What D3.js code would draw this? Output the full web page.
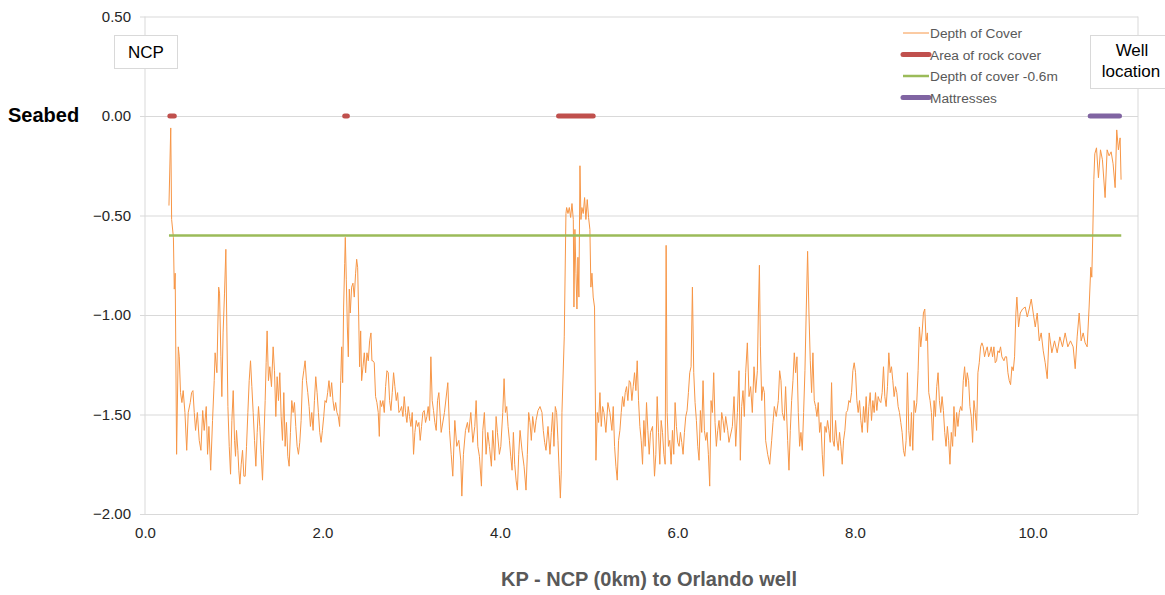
<!DOCTYPE html>
<html>
<head>
<meta charset="utf-8">
<script src="https://cdn.jsdelivr.net/npm/d3@7"></script>
<style>
  body { margin: 0; background: #fff; }
  text { font-family: "Liberation Sans", Arial, sans-serif; }
</style>
</head>
<body>
<div id="chart"></div>
<script>
// depth of cover along the route, [KP km, depth m]
var depthOfCover = [
  [0.27,-0.45],[0.29,-0.06],[0.30,-0.52],[0.32,-0.61],[0.33,-0.87],[0.34,-0.79],[0.356,-1.70],[0.375,-1.16],
  [0.40,-1.39],[0.43,-1.38],[0.47,-1.68],[0.51,-1.44],[0.54,-1.38],[0.57,-1.58],[0.59,-1.49],[0.63,-1.68],
  [0.65,-1.48],[0.69,-1.46],[0.705,-1.70],[0.72,-1.56],[0.74,-1.78],[0.78,-1.33],[0.79,-1.19],[0.81,-1.29],
  [0.83,-0.86],[0.84,-0.89],[0.855,-1.21],[0.866,-1.41],[0.88,-1.09],[0.896,-0.89],[0.911,-0.67],[0.922,-1.06],
  [0.934,-1.46],[0.964,-1.80],[0.979,-1.53],[0.994,-1.38],[1.02,-1.71],[1.031,-1.58],[1.057,-1.78],[1.069,-1.85],
  [1.099,-1.68],[1.114,-1.81],[1.144,-1.66],[1.174,-1.33],[1.189,-1.23],[1.219,-1.49],[1.249,-1.76],[1.279,-1.46],
  [1.309,-1.70],[1.324,-1.83],[1.354,-1.43],[1.376,-1.08],[1.406,-1.26],[1.444,-1.16],[1.474,-1.51],[1.489,-1.31],
  [1.519,-1.29],[1.549,-1.63],[1.564,-1.39],[1.579,-1.66],[1.609,-1.71],[1.624,-1.76],[1.654,-1.43],[1.684,-1.44],
  [1.729,-1.70],[1.759,-1.53],[1.789,-1.28],[1.819,-1.33],[1.864,-1.56],[1.894,-1.58],[1.924,-1.31],[1.969,-1.59],
  [1.999,-1.58],[2.028,-1.43],[2.073,-1.33],[2.118,-1.43],[2.163,-1.49],[2.193,-1.56],[2.205,-1.33],[2.216,-1.16],
  [2.227,-1.34],[2.238,-0.96],[2.25,-0.74],[2.257,-0.61],[2.268,-0.82],[2.291,-1.21],[2.302,-0.87],[2.328,-0.86],
  [2.358,-0.91],[2.385,-0.72],[2.407,-0.99],[2.418,-1.26],[2.441,-1.33],[2.471,-1.19],[2.501,-1.19],[2.546,-1.09],
  [2.568,-1.23],[2.598,-1.41],[2.64,-1.61],[2.666,-1.46],[2.711,-1.36],[2.741,-1.29],[2.771,-1.48],[2.816,-1.36],
  [2.861,-1.49],[2.906,-1.51],[2.936,-1.49],[2.966,-1.46],[2.996,-1.56],[3.026,-1.70],[3.056,-1.53],[3.101,-1.63],
  [3.146,-1.48],[3.191,-1.46],[3.221,-1.21],[3.251,-1.48],[3.281,-1.58],[3.311,-1.39],[3.337,-1.59],[3.412,-1.34],
  [3.468,-1.81],[3.491,-1.53],[3.536,-1.63],[3.57,-1.91],[3.588,-1.70],[3.633,-1.54],[3.671,-1.49],[3.694,-1.64],
  [3.731,-1.43],[3.768,-1.71],[3.791,-1.86],[3.824,-1.49],[3.843,-1.70],[3.881,-1.66],[3.903,-1.76],[3.941,-1.73],
  [3.956,-1.51],[3.993,-1.70],[4.031,-1.49],[4.046,-1.32],[4.076,-1.46],[4.121,-1.71],[4.151,-1.59],[4.196,-1.88],
  [4.226,-1.58],[4.271,-1.76],[4.293,-1.88],[4.323,-1.49],[4.353,-1.63],[4.391,-1.59],[4.428,-1.48],[4.473,-1.49],
  [4.518,-1.68],[4.563,-1.70],[4.593,-1.49],[4.623,-1.46],[4.653,-1.63],[4.68,-1.92],[4.698,-1.49],[4.724,-1.11],
  [4.743,-0.49],[4.766,-0.49],[4.796,-0.51],[4.811,-0.44],[4.826,-0.52],[4.833,-0.96],[4.844,-0.57],[4.867,-0.97],
  [4.878,-0.71],[4.889,-0.91],[4.901,-0.25],[4.912,-0.52],[4.938,-0.49],[4.953,-0.41],[4.968,-0.52],[4.983,-0.42],
  [5.013,-0.57],[5.024,-0.86],[5.05,-0.91],[5.065,-0.96],[5.081,-1.73],[5.096,-1.49],[5.126,-1.39],[5.141,-1.56],
  [5.171,-1.49],[5.216,-1.44],[5.261,-1.58],[5.291,-1.66],[5.321,-1.83],[5.351,-1.58],[5.381,-1.41],[5.426,-1.36],
  [5.456,-1.33],[5.486,-1.43],[5.516,-1.29],[5.546,-1.23],[5.576,-1.56],[5.606,-1.75],[5.621,-1.53],[5.651,-1.44],
  [5.681,-1.70],[5.719,-1.56],[5.741,-1.81],[5.771,-1.41],[5.801,-1.75],[5.831,-1.59],[5.861,-1.75],[5.872,-0.65],
  [5.883,-1.49],[5.928,-1.75],[5.973,-1.44],[6.018,-1.66],[6.063,-1.70],[6.108,-1.48],[6.138,-1.29],[6.153,-1.26],
  [6.168,-0.86],[6.183,-1.29],[6.213,-1.53],[6.243,-1.73],[6.258,-1.48],[6.288,-1.33],[6.318,-1.63],[6.363,-1.86],
  [6.378,-1.43],[6.408,-1.29],[6.438,-1.66],[6.483,-1.63],[6.528,-1.59],[6.566,-1.58],[6.58,-1.64],[6.637,-1.41],
  [6.656,-1.66],[6.693,-1.28],[6.708,-1.73],[6.738,-1.38],[6.768,-1.29],[6.787,-1.14],[6.806,-1.41],[6.843,-1.49],
  [6.862,-1.26],[6.881,-1.39],[6.9,-1.28],[6.923,-0.75],[6.934,-1.16],[6.949,-1.43],[6.979,-1.39],[7.016,-1.70],
  [7.039,-1.75],[7.076,-1.54],[7.113,-1.51],[7.151,-1.28],[7.181,-1.49],[7.218,-1.36],[7.256,-1.78],[7.286,-1.43],
  [7.316,-1.19],[7.346,-1.21],[7.376,-1.66],[7.406,-1.68],[7.436,-1.28],[7.451,-0.97],[7.466,-0.68],[7.481,-0.99],
  [7.496,-1.23],[7.526,-1.19],[7.556,-1.46],[7.601,-1.59],[7.646,-1.81],[7.676,-1.59],[7.721,-1.64],[7.736,-1.34],
  [7.766,-1.66],[7.811,-1.68],[7.856,-1.75],[7.901,-1.49],[7.946,-1.44],[7.991,-1.24],[8.036,-1.49],[8.081,-1.59],
  [8.126,-1.41],[8.141,-1.59],[8.171,-1.39],[8.216,-1.49],[8.261,-1.41],[8.321,-1.26],[8.366,-1.36],[8.381,-1.19],
  [8.426,-1.33],[8.471,-1.39],[8.516,-1.54],[8.561,-1.71],[8.591,-1.29],[8.621,-1.66],[8.651,-1.68],[8.681,-1.49],
  [8.711,-1.28],[8.726,-1.06],[8.756,-1.09],[8.786,-0.97],[8.816,-1.09],[8.831,-1.39],[8.876,-1.63],[8.921,-1.36],
  [8.966,-1.49],[9.026,-1.66],[9.07,-1.75],[9.115,-1.46],[9.16,-1.56],[9.22,-1.33],[9.265,-1.29],[9.31,-1.51],
  [9.325,-1.64],[9.34,-1.43],[9.385,-1.29],[9.43,-1.14],[9.475,-1.18],[9.52,-1.19],[9.565,-1.16],[9.61,-1.18],
  [9.655,-1.21],[9.708,-1.21],[9.738,-1.33],[9.768,-1.26],[9.798,-1.21],[9.824,-0.91],[9.843,-1.06],[9.862,-0.99],
  [9.888,-0.97],[9.918,-0.96],[9.941,-1.01],[9.963,-0.97],[9.986,-0.92],[10.008,-0.99],[10.031,-1.06],[10.053,-0.99],
  [10.076,-1.13],[10.098,-1.09],[10.121,-1.18],[10.143,-1.24],[10.166,-1.32],[10.188,-1.09],[10.218,-1.19],[10.248,-1.13],
  [10.278,-1.19],[10.308,-1.11],[10.338,-1.16],[10.368,-1.09],[10.398,-1.16],[10.428,-1.13],[10.458,-1.16],[10.481,-1.27],
  [10.503,-1.11],[10.526,-0.99],[10.548,-1.13],[10.571,-1.09],[10.593,-1.14],[10.616,-1.16],[10.638,-0.96],[10.657,-0.76],
  [10.668,-0.81],[10.679,-0.60],[10.691,-0.32],[10.702,-0.19],[10.721,-0.16],[10.743,-0.31],[10.766,-0.17],[10.788,-0.22],
  [10.818,-0.41],[10.841,-0.17],[10.863,-0.20],[10.886,-0.18],[10.908,-0.24],[10.931,-0.36],[10.949,-0.07],[10.968,-0.17],
  [10.987,-0.11],[10.998,-0.32],
  // finer readings between the points above
  [0.386,-1.21],[0.416,-1.44],[0.45,-1.49],[0.487,-1.49],[0.525,-1.39],[0.555,-1.49],[0.611,-1.63],[0.667,-1.58],
  [0.761,-1.53],[0.949,-1.66],[1.009,-1.63],[1.046,-1.68],[1.084,-1.75],[1.129,-1.81],[1.159,-1.49],[1.204,-1.36],
  [1.234,-1.63],[1.264,-1.59],[1.294,-1.56],[1.339,-1.63],[1.365,-1.24],[1.391,-1.33],[1.425,-1.36],[1.459,-1.28],
  [1.504,-1.43],[1.534,-1.51],[1.594,-1.54],[1.639,-1.59],[1.669,-1.49],[1.699,-1.56],[1.714,-1.66],[1.744,-1.64],
  [1.774,-1.33],[1.804,-1.23],[1.834,-1.39],[1.849,-1.46],[1.879,-1.49],[1.909,-1.43],[1.939,-1.39],[1.954,-1.49],
  [1.984,-1.64],[2.014,-1.51],[2.043,-1.44],[2.058,-1.39],[2.088,-1.41],[2.103,-1.34],[2.133,-1.48],[2.148,-1.44],
  [2.178,-1.51],[2.28,-1.06],[2.313,-0.99],[2.343,-0.84],[2.373,-0.79],[2.396,-0.76],[2.43,-1.08],[2.456,-1.26],
  [2.486,-1.29],[2.516,-1.23],[2.531,-1.13],[2.557,-1.23],[2.583,-1.24],[2.613,-1.44],[2.628,-1.49],[2.651,-1.43],
  [2.681,-1.43],[2.696,-1.49],[2.726,-1.28],[2.756,-1.43],[2.786,-1.39],[2.801,-1.29],[2.831,-1.43],[2.846,-1.39],
  [2.876,-1.48],[2.891,-1.46],[2.921,-1.41],[2.951,-1.54],[2.981,-1.51],[3.011,-1.49],[3.041,-1.59],[3.071,-1.56],
  [3.086,-1.54],[3.116,-1.56],[3.131,-1.49],[3.161,-1.54],[3.176,-1.51],[3.206,-1.53],[3.236,-1.43],[3.266,-1.54],
  [3.296,-1.43],[3.374,-1.49],[3.431,-1.58],[3.45,-1.70],[3.513,-1.66],[3.558,-1.73],[3.611,-1.58],[3.648,-1.59],
  [3.716,-1.56],[3.75,-1.66],[3.806,-1.58],[3.862,-1.59],[3.918,-1.58],[3.971,-1.59],[4.009,-1.66],[4.061,-1.49],
  [4.091,-1.56],[4.106,-1.63],[4.136,-1.78],[4.166,-1.75],[4.181,-1.83],[4.211,-1.70],[4.248,-1.68],[4.308,-1.70],
  [4.338,-1.54],[4.368,-1.51],[4.406,-1.53],[4.451,-1.46],[4.488,-1.58],[4.503,-1.64],[4.541,-1.56],[4.578,-1.59],
  [4.608,-1.66],[4.638,-1.49],[4.668,-1.80],[4.691,-1.78],[4.751,-0.46],[4.781,-0.46],[4.856,-0.79],[4.923,-0.46],
  [4.998,-0.51],[5.036,-0.79],[5.111,-1.54],[5.156,-1.46],[5.193,-1.59],[5.238,-1.49],[5.276,-1.46],[5.306,-1.76],
  [5.336,-1.63],[5.366,-1.49],[5.396,-1.46],[5.411,-1.39],[5.441,-1.43],[5.471,-1.34],[5.501,-1.36],[5.531,-1.38],
  [5.561,-1.43],[5.591,-1.63],[5.636,-1.66],[5.666,-1.58],[5.696,-1.59],[5.756,-1.70],[5.786,-1.59],[5.816,-1.53],
  [5.846,-1.70],[5.898,-1.66],[5.913,-1.63],[5.943,-1.58],[5.958,-1.70],[5.988,-1.56],[6.003,-1.64],[6.033,-1.59],
  [6.048,-1.64],[6.078,-1.59],[6.093,-1.51],[6.123,-1.39],[6.198,-1.44],[6.228,-1.66],[6.273,-1.59],[6.303,-1.58],
  [6.333,-1.59],[6.348,-1.70],[6.393,-1.49],[6.423,-1.54],[6.453,-1.58],[6.468,-1.53],[6.498,-1.49],[6.513,-1.53],
  [6.543,-1.51],[6.618,-1.56],[6.675,-1.49],[6.723,-1.46],[6.753,-1.51],[6.824,-1.36],[6.911,-0.99],[6.963,-1.36],
  [6.993,-1.63],[7.061,-1.63],[7.091,-1.46],[7.136,-1.43],[7.166,-1.33],[7.203,-1.53],[7.241,-1.63],[7.271,-1.58],
  [7.301,-1.33],[7.331,-1.29],[7.361,-1.49],[7.391,-1.59],[7.421,-1.49],[7.511,-1.39],[7.541,-1.43],[7.571,-1.51],
  [7.586,-1.44],[7.616,-1.54],[7.631,-1.70],[7.661,-1.56],[7.691,-1.53],[7.706,-1.58],[7.751,-1.63],[7.781,-1.53],
  [7.796,-1.63],[7.826,-1.59],[7.841,-1.66],[7.871,-1.63],[7.886,-1.58],[7.916,-1.48],[7.931,-1.43],[7.961,-1.39],
  [7.976,-1.28],[8.006,-1.29],[8.021,-1.43],[8.051,-1.43],[8.066,-1.53],[8.096,-1.46],[8.111,-1.54],[8.156,-1.46],
  [8.186,-1.53],[8.201,-1.43],[8.231,-1.39],[8.246,-1.48],[8.276,-1.43],[8.291,-1.44],[8.306,-1.39],[8.336,-1.41],
  [8.351,-1.46],[8.396,-1.29],[8.411,-1.26],[8.441,-1.41],[8.456,-1.36],[8.486,-1.46],[8.501,-1.49],[8.531,-1.59],
  [8.546,-1.68],[8.576,-1.63],[8.606,-1.58],[8.636,-1.49],[8.666,-1.43],[8.696,-1.44],[8.741,-1.16],[8.771,-0.99],
  [8.801,-1.13],[8.846,-1.43],[8.861,-1.49],[8.891,-1.43],[8.906,-1.51],[8.936,-1.29],[8.951,-1.43],[8.981,-1.41],
  [8.996,-1.48],[9.011,-1.59],[9.041,-1.56],[9.055,-1.63],[9.085,-1.59],[9.10,-1.66],[9.13,-1.61],[9.145,-1.49],
  [9.175,-1.49],[9.19,-1.46],[9.205,-1.48],[9.235,-1.26],[9.25,-1.36],[9.28,-1.33],[9.295,-1.46],[9.355,-1.49],
  [9.37,-1.58],[9.40,-1.24],[9.415,-1.16],[9.445,-1.16],[9.46,-1.21],[9.49,-1.16],[9.505,-1.21],[9.535,-1.16],
  [9.55,-1.21],[9.58,-1.24],[9.595,-1.23],[9.625,-1.19],[9.64,-1.16],[9.678,-1.23],[9.693,-1.21],[9.723,-1.29],
  [9.753,-1.35],[9.783,-1.28],[9.813,-0.99]
];

// [start KP, end KP] at seabed level
var rockCover = [[0.28, 0.33], [2.25, 2.28], [4.66, 5.05]];
var mattresses = [[10.65, 10.98]];

// target depth line
var coverLimit = -0.6;
var coverLimitKP = [0.27, 11.0];

var xTicks = [0, 2, 4, 6, 8, 10];
var yTicks = [0.5, 0, -0.5, -1, -1.5, -2];

var legendItems = [
  {name: "Depth of Cover", color: "#f79646", width: 1},
  {name: "Area of rock cover", color: "#c0504d", width: 5},
  {name: "Depth of cover -0.6m", color: "#9bbb59", width: 2.5},
  {name: "Mattresses", color: "#8064a2", width: 5}
];

var width = 1165, height = 595;
var plotLeft = 145, plotRight = 1138, plotTop = 16.5, plotBottom = 514;

var svg = d3.select("#chart").append("svg")
  .attr("width", width)
  .attr("height", height);

var x = d3.scaleLinear().domain([0, 11.2]).range([plotLeft, 1139]);
var y = d3.scaleLinear().domain([-2, 0.5]).range([plotBottom, plotTop]);

// y gridlines + labels
var yAxis = svg.append("g")
  .attr("transform", "translate(140,0)")
  .call(d3.axisLeft(y)
    .tickValues(yTicks)
    .tickSize(-(plotRight - 140))
    .tickPadding(9)
    .tickFormat(d3.format(".2f")));
yAxis.select(".domain").remove();
yAxis.selectAll("line").attr("stroke", "#d9d9d9");
yAxis.selectAll("text")
  .attr("fill", "#262626")
  .style("font-size", "15px")
  .style("font-family", "'Liberation Sans', Arial, sans-serif");

// left axis and right border
svg.append("line")
  .attr("x1", x(0)).attr("x2", x(0))
  .attr("y1", plotTop).attr("y2", plotBottom)
  .attr("stroke", "#d9d9d9");
svg.append("line")
  .attr("x1", plotRight).attr("x2", plotRight)
  .attr("y1", plotTop).attr("y2", plotBottom)
  .attr("stroke", "#d9d9d9");

// x labels
var xAxis = svg.append("g")
  .attr("transform", "translate(0," + plotBottom + ")")
  .call(d3.axisBottom(x)
    .tickValues(xTicks)
    .tickSize(0)
    .tickPadding(13)
    .tickFormat(d3.format(".1f")));
xAxis.select(".domain").remove();
xAxis.selectAll("text")
  .attr("fill", "#262626")
  .style("font-size", "15px")
  .style("font-family", "'Liberation Sans', Arial, sans-serif");

// depth of cover
var line = d3.line()
  .x(function(d) { return x(d[0]); })
  .y(function(d) { return y(d[1]); });

var coverPoints = depthOfCover.slice().sort(function(a, b) { return a[0] - b[0]; });

svg.append("path")
  .datum(coverPoints)
  .attr("d", line)
  .attr("fill", "none")
  .attr("stroke", "#f79646")
  .attr("stroke-width", 1)
  .attr("stroke-linejoin", "round");

// -0.6m line
svg.append("line")
  .attr("x1", x(coverLimitKP[0])).attr("x2", x(coverLimitKP[1]))
  .attr("y1", y(coverLimit)).attr("y2", y(coverLimit))
  .attr("stroke", "#9bbb59")
  .attr("stroke-width", 2.5);

// rock cover & mattresses at seabed
function seabedBars(data, color) {
  svg.append("g").selectAll("line")
    .data(data)
    .enter().append("line")
      .attr("x1", function(d) { return x(d[0]); })
      .attr("x2", function(d) { return x(d[1]); })
      .attr("y1", y(0)).attr("y2", y(0))
      .attr("stroke", color)
      .attr("stroke-width", 5)
      .attr("stroke-linecap", "round");
}
seabedBars(rockCover, "#c0504d");
seabedBars(mattresses, "#8064a2");

// legend
var legend = svg.append("g").attr("transform", "translate(903,0)");
legendItems.forEach(function(d, i) {
  var yy = 33 + i * 21.5;
  legend.append("line")
    .attr("x1", 0).attr("x2", 26)
    .attr("y1", yy).attr("y2", yy)
    .attr("stroke", d.color)
    .attr("stroke-width", d.width)
    .attr("stroke-linecap", d.width > 3 ? "round" : "butt");
  legend.append("text")
    .attr("x", 27)
    .attr("y", yy + 5)
    .attr("fill", "#595959")
    .style("font-size", "13.7px")
    .text(d.name);
});

// annotation boxes
svg.append("rect")
  .attr("x", 114.5).attr("y", 35.5)
  .attr("width", 63).attr("height", 33)
  .attr("fill", "#fff").attr("stroke", "#d9d9d9");
svg.append("text")
  .attr("x", 146).attr("y", 57.5)
  .attr("text-anchor", "middle")
  .attr("fill", "#000")
  .style("font-size", "17px")
  .text("NCP");

svg.append("rect")
  .attr("x", 1090.5).attr("y", 35.5)
  .attr("width", 80).attr("height", 53)
  .attr("fill", "#fff").attr("stroke", "#d9d9d9");
svg.append("text")
  .attr("x", 1132).attr("y", 56)
  .attr("text-anchor", "middle")
  .attr("fill", "#000")
  .style("font-size", "17px")
  .text("Well");
svg.append("text")
  .attr("x", 1131).attr("y", 77)
  .attr("text-anchor", "middle")
  .attr("fill", "#000")
  .style("font-size", "17px")
  .text("location");

svg.append("text")
  .attr("x", 8).attr("y", 122)
  .attr("fill", "#000")
  .attr("font-weight", "bold")
  .style("font-size", "20px")
  .text("Seabed");

// x axis title
svg.append("text")
  .attr("x", 649).attr("y", 586)
  .attr("text-anchor", "middle")
  .attr("fill", "#595959")
  .attr("font-weight", "bold")
  .style("font-size", "20px")
  .text("KP - NCP (0km) to Orlando well");
</script>
</body>
</html>
